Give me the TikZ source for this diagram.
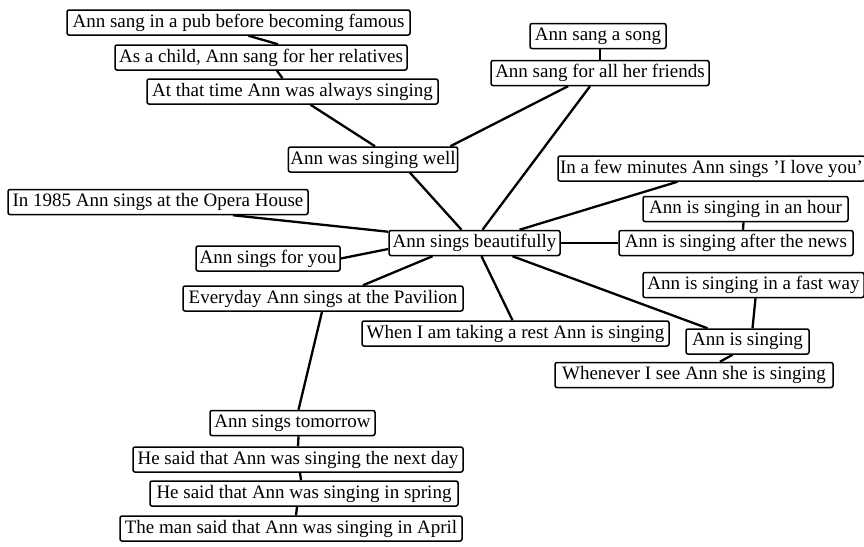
\documentclass[tikz,border=0pt]{standalone}
\usepackage{fontspec}
\setmainfont{Liberation Serif}
\usetikzlibrary{backgrounds}
\tikzset{
  bx/.style={draw=black, line width=1.5pt, rounded corners=2pt, fill=white,
    inner xsep=2pt, inner ysep=0pt, minimum height=25pt,
    font=\fontsize{19}{22}\selectfont, text=black},
  ln/.style={draw=black, line width=2.3pt}
}
\begin{document}
\begin{tikzpicture}[x=1pt,y=-1pt]
\useasboundingbox (0,0) rectangle (864,546);
\node[bx, minimum width=343pt] (b1) at (238.5,22.5) {Ann sang in a pub before becoming famous};
\node[bx, minimum width=292pt] (b2) at (261,57.5) {As a child, Ann sang for her relatives};
\node[bx, minimum width=291pt] (b3) at (292.5,91.5) {At that time Ann was always singing};
\node[bx, minimum width=130pt] (b4) at (373,159.5) {Ann was singing well};
\node[bx, minimum width=136pt] (b5) at (598,36) {Ann sang a song};
\node[bx, minimum width=218pt] (b6) at (600,73) {Ann sang for all her friends};
\node[bx, minimum width=303pt] (b7) at (711.5,168.5) {In a few minutes Ann sings 'I love you'};
\node[bx, minimum width=300pt] (b8) at (158,202) {In 1985 Ann sings at the Opera House};
\node[bx, minimum width=171pt] (b9) at (474.5,243) {Ann sings beautifully};
\node[bx, minimum width=205pt] (b10) at (745.5,209) {Ann is singing in an hour};
\node[bx, minimum width=234pt] (b11) at (736,243) {Ann is singing after the news};
\node[bx, minimum width=144pt] (b12) at (268,258.5) {Ann sings for you};
\node[bx, minimum width=280pt] (b13) at (323,298.5) {Everyday Ann sings at the Pavilion};
\node[bx, minimum width=221pt] (b14) at (753.5,285) {Ann is singing in a fast way};
\node[bx, minimum width=307pt] (b15) at (515.5,333.5) {When I am taking a rest Ann is singing};
\node[bx, minimum width=123pt] (b16) at (747.5,341.5) {Ann is singing};
\node[bx, minimum width=278pt] (b17) at (694,375) {Whenever I see Ann she is singing};
\node[bx, minimum width=165pt] (b18) at (292.5,423) {Ann sings tomorrow};
\node[bx, minimum width=330pt] (b19) at (298,459.5) {He said that Ann was singing the next day};
\node[bx, minimum width=308pt] (b20) at (304,493.5) {He said that Ann was singing in spring};
\node[bx, minimum width=342pt] (b21) at (291,528.5) {The man said that Ann was singing in April};
\begin{scope}[on background layer]
\draw[ln] ([xshift=10pt]b1.south) -- ([xshift=17pt]b2.north);
\draw[ln] ([xshift=16pt]b2.south) -- ([xshift=-10pt]b3.north);
\draw[ln] ([xshift=18pt]b3.south) -- ([xshift=2pt]b4.north);
\draw[ln] ([xshift=-8pt]b4.north east) -- ([xshift=-32pt]b6.south);
\draw[ln] ([xshift=-10pt]b6.south) -- ([xshift=8pt]b9.north);
\draw[ln] ([xshift=37pt]b4.south) -- ([xshift=-13pt]b9.north);
\draw[ln] ([xshift=2pt]b5.south) -- (b6.north);
\draw[ln] ([xshift=-34pt]b7.south) -- ([xshift=45pt]b9.north);
\draw[ln] ([xshift=-2pt]b10.south) -- ([xshift=7pt]b11.north);
\draw[ln] (b9.east) -- (b11.west);
\draw[ln] ([xshift=38pt]b9.south) -- ([xshift=-40pt]b16.north);
\draw[ln] ([xshift=7pt]b9.south) -- ([xshift=-3pt]b15.north);
\draw[ln] ([xshift=2pt]b14.south) -- ([xshift=5pt]b16.north);
\draw[ln] ([xshift=-15pt]b16.south) -- ([xshift=26pt]b17.north);
\draw[ln] ([xshift=75pt]b8.south) -- ([yshift=-2pt]b9.north west);
\draw[ln] (b12.east) -- ([yshift=-6pt]b9.west);
\draw[ln] ([xshift=-42pt]b9.south) -- ([xshift=40pt]b13.north);
\draw[ln] ([xshift=-1pt]b13.south) -- ([xshift=6pt]b18.north);
\draw[ln] ([xshift=6pt]b18.south) -- (b19.north);
\draw[ln] ([xshift=2pt]b19.south) -- ([xshift=-3pt]b20.north);
\draw[ln] ([xshift=-7pt]b20.south) -- ([xshift=5pt]b21.north);
\end{scope}
\end{tikzpicture}
\end{document}
